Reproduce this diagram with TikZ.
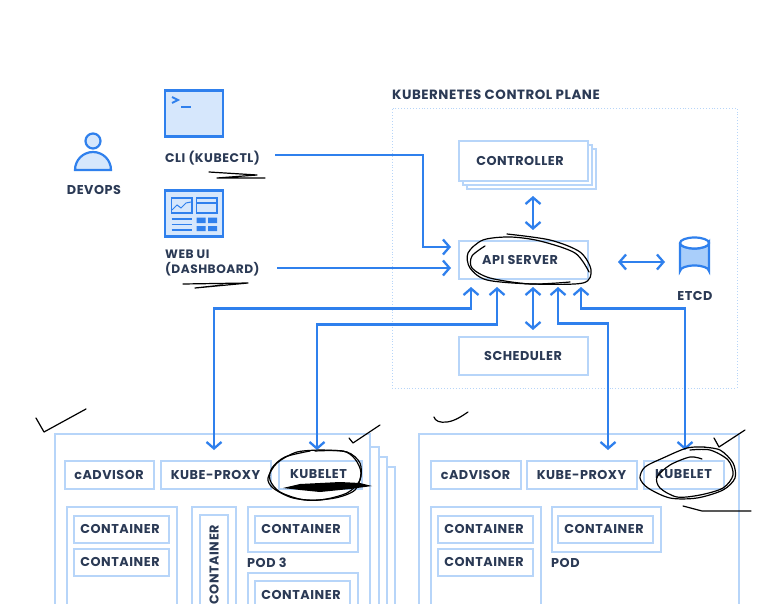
\documentclass[tikz,border=0pt]{standalone}
\usepackage{fontspec}
\setmainfont{Poppins}[LetterSpace=4]
\usetikzlibrary{arrows.meta,shapes.geometric}
\definecolor{boxline}{HTML}{B7D5F9}
\definecolor{conn}{HTML}{2F80ED}
\definecolor{ink}{HTML}{2B3A55}
\definecolor{iconfill}{HTML}{D6E7FC}
\definecolor{etcdfill}{HTML}{A9CEFA}
\tikzset{
  x=1pt,y=-1pt,
  lab/.style={font=\fontsize{12.8}{15}\selectfont\bfseries,text=ink,inner sep=0pt,yshift=-1.2pt},
  boxn/.style={draw=boxline,line width=2pt,fill=white,anchor=north west,inner sep=0pt,outer sep=0pt,xshift=.5pt,yshift=-.5pt,
     font=\fontsize{12.8}{14}\selectfont\bfseries,text=ink},
  wire/.style={draw=conn,line width=2.4pt,line join=miter},
  tip/.style={-{Straight Barb[length=6.5pt,width=15pt,line width=2.3pt]}},
  tips/.style={{Straight Barb[length=6.5pt,width=15pt,line width=2.3pt]}-{Straight Barb[length=6.5pt,width=15pt,line width=2.3pt]}},
  pen/.style={draw=black,line width=1.2pt,line cap=round,line join=round},
  icon/.style={draw=conn,line width=2.2pt,fill=iconfill,outer sep=0pt},
  iconline/.style={draw=conn,line width=1.6pt},
}
\newcommand{\bx}[6][]{\node[boxn,minimum width=#4pt,minimum height=#5pt,#1] (#2) at #3 {\raisebox{-1.2pt}{#6}};}
\begin{document}
\begin{tikzpicture}
\useasboundingbox (0,0) rectangle (770,604);
\fill[white] (0,0) rectangle (770,604);
\begin{scope}
\clip (0,0) rectangle (770,604);

% control plane
\node[draw=boxline,dotted,line width=0.9pt,anchor=north west,minimum width=345pt,minimum height=280pt,inner sep=0pt,outer sep=0pt] (plane) at (392,108) {};
\node[lab,anchor=west,font=\fontsize{13.4}{15}\selectfont\bfseries] (planelab) at (392,94) {KUBERNETES CONTROL PLANE};
\bx{ctrlc}{(466,149)}{129}{39}{}
\bx{ctrlb}{(462,145)}{129}{39}{}
\bx{ctrl}{(458,141)}{129}{39}{\hspace{-6pt}CONTROLLER}
\bx{api}{(458,240)}{129}{38}{\hspace{-6pt}API SERVER}
\bx{sched}{(458,336)}{129}{38}{SCHEDULER}

% etcd
\path[icon,fill=etcdfill] (680,243) -- (680,271) arc[start angle=180,end angle=360,x radius=14.5,y radius=5.5] -- (709,243) arc[start angle=0,end angle=180,x radius=14.5,y radius=5.5];
\path[icon,fill=white] (694.5,243) ellipse[x radius=14.5,y radius=5.5];
\node[lab,anchor=center] (etcdlab) at (695,294.5) {ETCD};
\coordinate (etcdw) at (665,262);

% devops
\node[icon,circle,minimum size=15pt,inner sep=0pt] (head) at (93,141) {};
\path[icon] (75,170) arc[start angle=180,end angle=360,x radius=18,y radius=18] -- cycle;
\node[lab] (devops) at (94,188.5) {DEVOPS};

% CLI icon
\node[icon,anchor=north west,minimum width=58pt,minimum height=46pt,inner sep=0pt] (cliicon) at (165,90.5) {};
\draw[iconline,line width=2pt] (172,97) -- (178,100) -- (172,103);
\draw[iconline,line width=2pt] (181,107.5) -- (191,107.5);
\node[lab,anchor=west,font=\fontsize{12.5}{15}\selectfont\bfseries] (cli) at (165,157) {CLI (KUBECTL)};

% Web icon
\node[icon,anchor=north west,minimum width=58pt,minimum height=46pt,inner sep=0pt] (webicon) at (165,190.5) {};
\draw[iconline] (171.5,198) rectangle (192,213);
\draw[iconline] (196.5,198) rectangle (217,213);
\draw[iconline] (196.5,203) -- (217,203);
\draw[iconline,line width=1pt] (172,210) -- (177,205) -- (181,208) -- (186,203) -- (191,202);
\draw[iconline] (171.5,219) -- (192,219) (171.5,224.5) -- (192,224.5) (171.5,230) -- (192,230);
\fill[conn] (196.5,217.5) rectangle (205.5,223) (208,217.5) rectangle (217,223) (196.5,226) rectangle (205.5,231) (208,226) rectangle (217,231);
\node[lab,anchor=west,align=left,font=\fontsize{12.2}{15}\selectfont\bfseries] (web) at (165,262) {WEB UI\\(DASHBOARD)};

% stacks behind worker 1
\node[boxn,minimum width=315pt,minimum height=200pt] (ws3) at (79,466) {};
\node[boxn,minimum width=315pt,minimum height=200pt] (ws2) at (71,456) {};
\node[boxn,minimum width=315pt,minimum height=200pt] (ws1) at (63,446) {};
\node[boxn,minimum width=315pt,minimum height=200pt] (w1) at (54,433) {};
\bx{cad1}{(64,460)}{89}{28}{cADVISOR}
\bx{kp1}{(160,460)}{110}{28}{KUBE-PROXY}
\bx{kl1}{(278,460)}{83}{28}{\hspace{-3pt}KUBELET}
\bx{p11}{(66,506)}{110}{130}{}
\bx{c111}{(73,515)}{95}{27}{\hspace{-2pt}CONTAINER}
\bx{c112}{(73,548)}{95}{27}{\hspace{-2pt}CONTAINER}
\bx{p12}{(191,506)}{44}{130}{}
\node[boxn,minimum width=28pt,minimum height=120pt,anchor=north west] (c121) at (199,514) {};
\node[font=\fontsize{12.8}{14}\selectfont\bfseries,text=ink,rotate=90,anchor=east,inner sep=0pt] (c121t) at (214,525) {CONTAINER};
\bx{p13}{(247,506)}{110}{45}{}
\bx{c131}{(254,515)}{95}{27}{\hspace{-2pt}CONTAINER}
\node[lab,anchor=west] (pod3) at (247,562) {POD 3};
\bx{p14}{(247,572)}{110}{50}{}
\bx{c141}{(254,580)}{95}{28}{\hspace{-2pt}CONTAINER}

% worker 2
\node[boxn,minimum width=320pt,minimum height=200pt] (w2) at (418,433) {};
\bx{cad2}{(430,460)}{90}{28}{cADVISOR}
\bx{kp2}{(526,460)}{110}{28}{KUBE-PROXY}
\bx{kl2}{(643,460)}{80}{28}{KUBELET}
\bx{p21}{(430,506)}{110}{130}{}
\bx{c211}{(437,515)}{95}{27}{\hspace{-2pt}CONTAINER}
\bx{c212}{(437,548)}{95}{27}{\hspace{-2pt}CONTAINER}
\bx{p22}{(551,506)}{109}{45}{}
\bx{c221}{(557,515)}{95}{27}{\hspace{-2pt}CONTAINER}
\node[lab,anchor=west] (pod) at (551,562) {POD};

% connector ports
\coordinate (apil1) at (451,247);
\coordinate (apil2) at (451,268);
\coordinate (apib1) at (471,287);
\coordinate (apib2) at (497,287);
\coordinate (apib3) at (558,287);
\coordinate (apib4) at (581,287);
\coordinate (apie) at (618,262);
\coordinate (ctrls) at (533,196);
\coordinate (apit) at (533,230);
\coordinate (apis) at (533,287);
\coordinate (schedn) at (533,330);
\coordinate (kp1t) at (214,450);
\coordinate (kl1t) at (317,450);
\coordinate (kp2t) at (608,450);
\coordinate (kl2t) at (685,450);
\coordinate (clie) at (275,155);
\coordinate (webe) at (277,268);

% connectors
\draw[wire,tip] (clie) -- (423,155) -- (423,247) -- (apil1);
\draw[wire,tip] (webe) -- (apil2);
\draw[wire,tips] (ctrls) -- (apit);
\draw[wire,tips] (apis) -- (schedn);
\draw[wire,tips] (apie) -- (etcdw);
\draw[wire,tips] (kp1t) -- (214,308.5) -- (471,308.5) -- (apib1);
\draw[wire,tips] (kl1t) -- (317,324.5) -- (497,324.5) -- (apib2);
\draw[wire,tips] (kp2t) -- (608,323.5) -- (558,323.5) -- (apib3);
\draw[wire,tips] (kl2t) -- (685,308.5) -- (581,308.5) -- (apib4);

% hand-drawn marks
\draw[pen] (36,418) -- (44,432) -- (86,409);
\draw[pen] (349,438) -- (353,443) -- (380,425);
\draw[pen] (434,417) .. controls (435,421) and (440,423) .. (447,422) .. controls (455,421) and (462,416) .. (468,412);
\draw[pen] (714,438) -- (719,447) -- (745,430);
\draw[pen] (683,506) -- (702,511) -- (751,511);
\draw[pen] (209,172) -- (257,175) -- (217,178) -- (265,178);
\draw[pen] (183,284) -- (248,283) -- (195,288) -- (223,285);
\draw[pen] plot[smooth] coordinates {(320,450) (347,452) (360,463) (360,480) (347,493) (320,500) (293,498) (273,488) (268,478) (277,463) (297,452) (322,450)};
\draw[pen] plot[smooth] coordinates {(315,451) (343,451) (355,459) (361,473) (355,490) (335,498) (305,500) (280,492) (270,480) (272,468) (285,457) (310,451)};
\fill[black] (283,488) -- (300,484) -- (340,482) -- (360,483) -- (372,486) -- (350,489) -- (320,492) -- (300,490) -- cycle;
\draw[pen] plot[smooth] coordinates {(702,447) (720,450) (733,463) (735,478) (723,490) (697,498) (670,498) (648,488) (640,478) (645,467) (663,458) (687,448) (705,447)};
\draw[pen] plot[smooth] coordinates {(702,459) (690,457) (670,465) (657,477) (660,488) (677,497) (700,495) (723,488) (733,475) (728,460) (710,450) (690,450)};
\draw[pen] plot[smooth] coordinates {(507,234) (550,240) (580,252) (591,270) (583,283) (533,284) (487,280) (470,268) (468,253) (483,240) (510,237) (540,241) (575,253) (589,272)};
\draw[pen] plot[smooth] coordinates {(485,246) (472,256) (472,268) (490,278) (530,284) (570,282)};
\end{scope}
\end{tikzpicture}
\end{document}
